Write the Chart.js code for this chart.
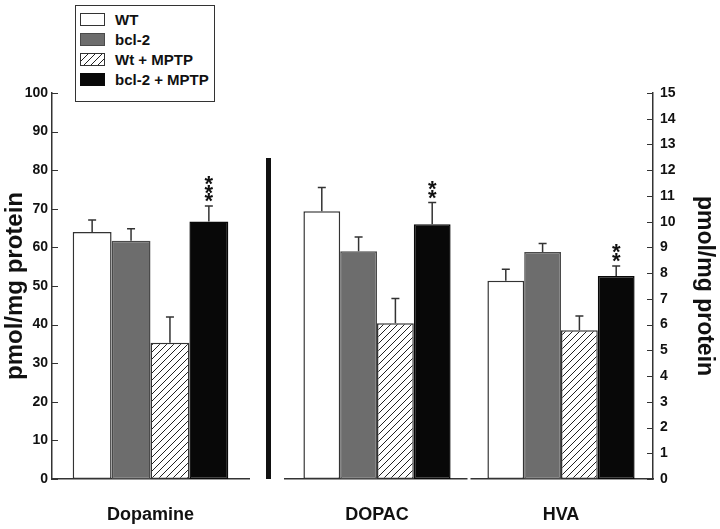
<!DOCTYPE html>
<html>
<head>
<meta charset="utf-8">
<script src="https://cdn.jsdelivr.net/npm/chart.js@4.4.1/dist/chart.umd.min.js"></script>
<style>
  body { margin: 0; background: #fff; width: 720px; height: 529px; position: relative; overflow: hidden; font-family: 'Liberation Sans', Arial, sans-serif; }
  #leftBox { position: absolute; left: 0; top: 0; }
  #rightBox { position: absolute; left: 260px; top: 0; }
  #divider { position: absolute; left: 266px; top: 158px; width: 5px; height: 321px; background: #111; }
  #legend { position: absolute; left: 75px; top: 5px; width: 138px; height: 95px; border: 1.5px solid #333; background: #fff; }
  .item { position: absolute; left: 4px; height: 13px; }
  .sw { position: absolute; left: 0; top: 0; width: 23px; height: 11px; border: 1px solid #333; }
  .txt { position: absolute; left: 35px; top: -2px; font-weight: bold; font-size: 15px; line-height: 17px; color: #111; white-space: nowrap; }
</style>
</head>
<body>
<div id="leftBox"><canvas id="c1" width="260" height="529"></canvas></div>
<div id="rightBox"><canvas id="c2" width="460" height="529"></canvas></div>
<div id="divider"></div>
<div id="legend"></div>
<script>
// compounds: Dopamine (left axis), DOPAC and HVA (right axis)
var leftGroups = ['Dopamine'];
var rightGroups = ['DOPAC', 'HVA'];
var seriesNames = ['WT', 'bcl-2', 'Wt + MPTP', 'bcl-2 + MPTP'];

// means and SEM, order: Dopamine, DOPAC, HVA
var wtMean = [64.0, 10.4, 7.7];
var wtSem = [3.1, 0.93, 0.45];
var bclMean = [61.7, 8.85, 8.82];
var bclSem = [3.1, 0.55, 0.33];
var wtMptpMean = [35.3, 6.05, 5.78];
var wtMptpSem = [6.7, 0.96, 0.55];
var bclMptpMean = [66.7, 9.9, 7.89];
var bclMptpSem = [4.0, 0.84, 0.39];
var bclMptpStars = ['***', '**', '**'];

var leftTicks = [0, 10, 20, 30, 40, 50, 60, 70, 80, 90, 100];
var rightTicks = [0, 1, 2, 3, 4, 5, 6, 7, 8, 9, 10, 11, 12, 13, 14, 15];

var FONT = "'Liberation Sans', Arial, sans-serif";
var INK = '#111';
var LINE = '#333';

// hatch tile for the Wt + MPTP bars
var tile = document.createElement('canvas');
tile.width = 7; tile.height = 7;
var g = tile.getContext('2d');
g.fillStyle = '#fff';
g.fillRect(0, 0, 7, 7);
g.strokeStyle = '#222';
g.lineWidth = 1;
g.beginPath();
g.moveTo(-1, 8);
g.lineTo(8, -1);
g.stroke();
var hatch = document.getElementById('c1').getContext('2d').createPattern(tile, 'repeat');
var hatch2 = document.getElementById('c2').getContext('2d').createPattern(tile, 'repeat');

var fills = ['#ffffff', '#6d6d6d', hatch, '#080808'];
var fills2 = ['#ffffff', '#6d6d6d', hatch2, '#080808'];
var borders = ['#333', '#4a4a4a', '#333', '#080808'];
var means = [wtMean, bclMean, wtMptpMean, bclMptpMean];
var sems = [wtSem, bclSem, wtMptpSem, bclMptpSem];
var stars = [['', '', ''], ['', '', ''], ['', '', ''], bclMptpStars];

// error bars (upper only) and significance stars
const errorBars = {
    id: 'errorBars',
    afterDatasetsDraw(chart) {
        const ctx = chart.ctx;
        const yScale = chart.scales.y;
        chart.data.datasets.forEach((ds, i) => {
            chart.getDatasetMeta(i).data.forEach((bar, j) => {
                const top = yScale.getPixelForValue(ds.data[j] + ds.sem[j]);
                ctx.save();
                ctx.strokeStyle = LINE;
                ctx.lineWidth = 1.5;
                ctx.beginPath();
                ctx.moveTo(bar.x, bar.y);
                ctx.lineTo(bar.x, top);
                ctx.moveTo(bar.x - 4, top);
                ctx.lineTo(bar.x + 4, top);
                ctx.stroke();
                const s = ds.stars[j];
                ctx.fillStyle = INK;
                ctx.font = 'bold 22px ' + FONT;
                ctx.textAlign = 'center';
                ctx.textBaseline = 'alphabetic';
                for (let k = 0; k < s.length; k++) {
                    ctx.fillText('*', bar.x, top + 2 - k * 8.5);
                }
                ctx.restore();
            });
        });
    }
};

// tick marks pointing into the plot, small break in the baseline between groups
const innerTicks = {
    id: 'innerTicks',
    afterDraw(chart, args, opts) {
        const s = chart.scales.y;
        const ctx = chart.ctx;
        const x0 = opts.side === 'left' ? chart.chartArea.left : chart.chartArea.right;
        const dir = opts.side === 'left' ? 1 : -1;
        ctx.save();
        ctx.strokeStyle = LINE;
        ctx.lineWidth = 1.2;
        ctx.beginPath();
        s.ticks.forEach((t, i) => {
            const y = Math.round(s.getPixelForTick(i)) + 0.5;
            ctx.moveTo(x0, y);
            ctx.lineTo(x0 + dir * 6, y);
        });
        ctx.stroke();
        const xs = chart.scales.x;
        ctx.fillStyle = '#fff';
        for (let i = 1; i < xs.ticks.length; i++) {
            const xb = (xs.getPixelForTick(i - 1) + xs.getPixelForTick(i)) / 2;
            ctx.fillRect(xb - 1.5, chart.chartArea.bottom - 2, 3, 4);
        }
        ctx.restore();
    }
};

function makeDatasets(idx, fillList) {
    return seriesNames.map((name, i) => ({
        label: name,
        data: idx.map(k => means[i][k]),
        sem: idx.map(k => sems[i][k]),
        stars: idx.map(k => stars[i][k]),
        backgroundColor: fillList[i],
        borderColor: borders[i],
        borderWidth: 1.5,
        borderSkipped: false,
        categoryPercentage: idx.length === 1 ? 0.79 : 0.8,
        barPercentage: 1.0
    }));
}

function yAxis(side, ticks, width) {
    return {
        position: side,
        min: ticks[0],
        max: ticks[ticks.length - 1],
        afterBuildTicks: (scale) => { scale.ticks = ticks.map(v => ({ value: v })); },
        afterFit: (scale) => { scale.width = width; },
        grid: { display: false, drawTicks: false },
        border: { display: true, color: LINE, width: 1.5 },
        ticks: {
            color: INK,
            padding: side === 'left' ? 4 : 7,
            font: { family: FONT, size: 14, weight: 'bold' }
        },
        title: {
            display: true,
            text: 'pmol/mg protein',
            color: INK,
            font: { family: FONT, size: side === 'left' ? 24 : 23, weight: 'bold', lineHeight: 1 },
            padding: side === 'left' ? { top: 3, bottom: 0 } : { top: 4, bottom: 0 }
        }
    };
}

var xAxis = {
    afterFit: (scale) => { scale.height = 50; },
    grid: { display: false, drawTicks: false },
    border: { display: true, color: LINE, width: 1.5 },
    ticks: {
        color: INK,
        padding: 25,
        font: { family: FONT, size: 18, weight: 'bold' }
    }
};

new Chart(document.getElementById('c1').getContext('2d'), {
    type: 'bar',
    data: { labels: leftGroups, datasets: makeDatasets([0], fills) },
    options: {
        responsive: false,
        animation: false,
        layout: { padding: { left: 0, right: 11, top: 93, bottom: 0 } },
        plugins: { legend: { display: false }, tooltip: { enabled: false }, innerTicks: { side: 'left' } },
        scales: { x: xAxis, y: yAxis('left', leftTicks, 52) }
    },
    plugins: [errorBars, innerTicks]
});

new Chart(document.getElementById('c2').getContext('2d'), {
    type: 'bar',
    data: { labels: rightGroups, datasets: makeDatasets([1, 2], fills2) },
    options: {
        responsive: false,
        animation: false,
        layout: { padding: { left: 25, right: 0, top: 93, bottom: 0 } },
        plugins: { legend: { display: false }, tooltip: { enabled: false }, innerTicks: { side: 'right' } },
        scales: { x: xAxis, y: yAxis('right', rightTicks, 67) }
    },
    plugins: [errorBars, innerTicks]
});

// legend box
var legend = document.getElementById('legend');
var tileUrl = tile.toDataURL();
seriesNames.forEach((name, i) => {
    var item = document.createElement('div');
    item.className = 'item';
    item.style.top = (6.5 + i * 20) + 'px';
    var sw = document.createElement('div');
    sw.className = 'sw';
    if (i === 2) {
        sw.style.backgroundImage = 'url(' + tileUrl + ')';
    } else {
        sw.style.background = fills[i];
    }
    sw.style.borderColor = borders[i];
    var txt = document.createElement('div');
    txt.className = 'txt';
    txt.textContent = name;
    item.appendChild(sw);
    item.appendChild(txt);
    legend.appendChild(item);
});
</script>
</body>
</html>
